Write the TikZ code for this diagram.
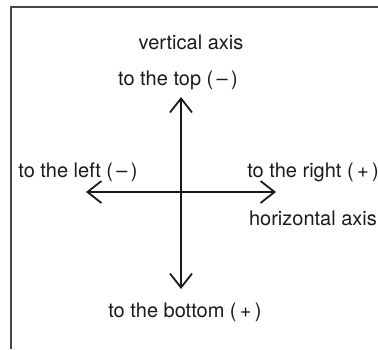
\documentclass[tikz,border=0pt]{standalone}
\usepackage{fontspec}
\setmainfont{TeX Gyre Heros}
\usetikzlibrary{arrows.meta}
\definecolor{ink}{HTML}{1A1A1A}

\begin{document}
\begin{tikzpicture}[
  x=0.5pt,y=0.5pt,
  every node/.style={font=\fontsize{10}{12}\selectfont,text=ink},
  axis/.style={line width=0.75pt,ink,-{Straight Barb[length=7pt,width=11pt,line width=0.9pt]}},
  frame/.style={line width=0.8pt,ink!80}
]
\useasboundingbox (0,0) rectangle (378,349);
% open frame
\draw[frame] (11,0) -- (11,342) -- (378,342);
% axes
\coordinate (o) at (181,157);
\coordinate (top) at (181,252);
\coordinate (bottom) at (181,60);
\coordinate (left) at (86,157);
\coordinate (right) at (276,157);
\foreach \v in {top,bottom,left,right} \draw[axis] (o) -- (\v);
% labels
\node (vlab) at (191,307) {vertical axis};
\node (tlab) at (178,269) {to the top (\,–\,)};
\node (llab) at (78,177) {to the left (\,–\,)};
\node (rlab) at (313,177) {to the right (\,+\,)};
\node (hlab) at (313,131) {horizontal axis};
\node (blab) at (185,37) {to the bottom (\,+\,)};
\end{tikzpicture}
\end{document}
